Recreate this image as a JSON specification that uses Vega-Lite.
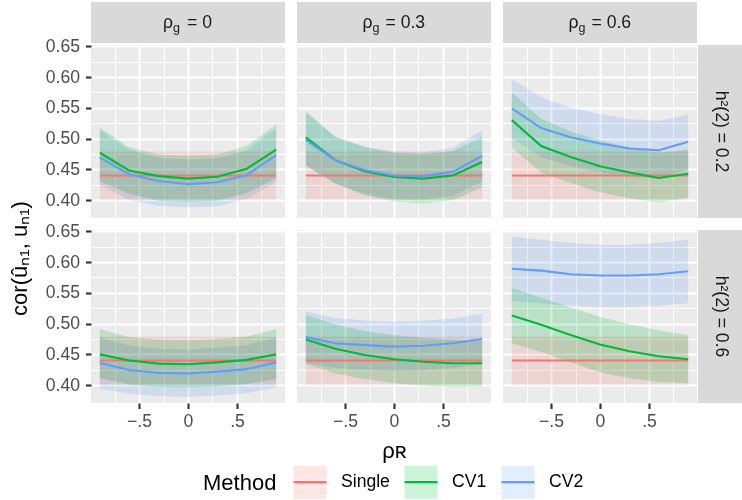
{
"$schema": "https://vega.github.io/schema/vega-lite/v6.json",
"padding": {"left": 8, "top": 2, "right": 0, "bottom": 0},
"background": "white",
"datasets": {"d": [
{"rg":"0","h2":"0.2","Method":"Single","rhoR":-0.9,"est":0.44,"lo":0.401,"hi":0.479},
{"rg":"0","h2":"0.2","Method":"Single","rhoR":-0.6,"est":0.44,"lo":0.401,"hi":0.479},
{"rg":"0","h2":"0.2","Method":"Single","rhoR":-0.3,"est":0.44,"lo":0.401,"hi":0.479},
{"rg":"0","h2":"0.2","Method":"Single","rhoR":0,"est":0.44,"lo":0.401,"hi":0.479},
{"rg":"0","h2":"0.2","Method":"Single","rhoR":0.3,"est":0.44,"lo":0.401,"hi":0.479},
{"rg":"0","h2":"0.2","Method":"Single","rhoR":0.6,"est":0.44,"lo":0.401,"hi":0.479},
{"rg":"0","h2":"0.2","Method":"Single","rhoR":0.9,"est":0.44,"lo":0.401,"hi":0.479},
{"rg":"0","h2":"0.2","Method":"CV1","rhoR":-0.9,"est":0.477,"lo":0.431,"hi":0.518},
{"rg":"0","h2":"0.2","Method":"CV1","rhoR":-0.6,"est":0.448,"lo":0.41,"hi":0.486},
{"rg":"0","h2":"0.2","Method":"CV1","rhoR":-0.3,"est":0.439,"lo":0.399,"hi":0.474},
{"rg":"0","h2":"0.2","Method":"CV1","rhoR":0,"est":0.435,"lo":0.397,"hi":0.472},
{"rg":"0","h2":"0.2","Method":"CV1","rhoR":0.3,"est":0.438,"lo":0.399,"hi":0.474},
{"rg":"0","h2":"0.2","Method":"CV1","rhoR":0.6,"est":0.451,"lo":0.412,"hi":0.488},
{"rg":"0","h2":"0.2","Method":"CV1","rhoR":0.9,"est":0.482,"lo":0.436,"hi":0.523},
{"rg":"0","h2":"0.2","Method":"CV2","rhoR":-0.9,"est":0.469,"lo":0.425,"hi":0.513},
{"rg":"0","h2":"0.2","Method":"CV2","rhoR":-0.6,"est":0.442,"lo":0.4,"hi":0.482},
{"rg":"0","h2":"0.2","Method":"CV2","rhoR":-0.3,"est":0.431,"lo":0.391,"hi":0.469},
{"rg":"0","h2":"0.2","Method":"CV2","rhoR":0,"est":0.426,"lo":0.388,"hi":0.466},
{"rg":"0","h2":"0.2","Method":"CV2","rhoR":0.3,"est":0.429,"lo":0.39,"hi":0.468},
{"rg":"0","h2":"0.2","Method":"CV2","rhoR":0.6,"est":0.441,"lo":0.402,"hi":0.481},
{"rg":"0","h2":"0.2","Method":"CV2","rhoR":0.9,"est":0.473,"lo":0.43,"hi":0.516},
{"rg":"0.3","h2":"0.2","Method":"Single","rhoR":-0.9,"est":0.44,"lo":0.401,"hi":0.479},
{"rg":"0.3","h2":"0.2","Method":"Single","rhoR":-0.6,"est":0.44,"lo":0.401,"hi":0.479},
{"rg":"0.3","h2":"0.2","Method":"Single","rhoR":-0.3,"est":0.44,"lo":0.401,"hi":0.479},
{"rg":"0.3","h2":"0.2","Method":"Single","rhoR":0,"est":0.44,"lo":0.401,"hi":0.479},
{"rg":"0.3","h2":"0.2","Method":"Single","rhoR":0.3,"est":0.44,"lo":0.401,"hi":0.479},
{"rg":"0.3","h2":"0.2","Method":"Single","rhoR":0.6,"est":0.44,"lo":0.401,"hi":0.479},
{"rg":"0.3","h2":"0.2","Method":"Single","rhoR":0.9,"est":0.44,"lo":0.401,"hi":0.479},
{"rg":"0.3","h2":"0.2","Method":"CV1","rhoR":-0.9,"est":0.502,"lo":0.457,"hi":0.545},
{"rg":"0.3","h2":"0.2","Method":"CV1","rhoR":-0.6,"est":0.465,"lo":0.427,"hi":0.503},
{"rg":"0.3","h2":"0.2","Method":"CV1","rhoR":-0.3,"est":0.447,"lo":0.408,"hi":0.486},
{"rg":"0.3","h2":"0.2","Method":"CV1","rhoR":0,"est":0.4375,"lo":0.398,"hi":0.477},
{"rg":"0.3","h2":"0.2","Method":"CV1","rhoR":0.3,"est":0.435,"lo":0.395,"hi":0.475},
{"rg":"0.3","h2":"0.2","Method":"CV1","rhoR":0.6,"est":0.44,"lo":0.4,"hi":0.48},
{"rg":"0.3","h2":"0.2","Method":"CV1","rhoR":0.9,"est":0.462,"lo":0.421,"hi":0.503},
{"rg":"0.3","h2":"0.2","Method":"CV2","rhoR":-0.9,"est":0.498,"lo":0.455,"hi":0.541},
{"rg":"0.3","h2":"0.2","Method":"CV2","rhoR":-0.6,"est":0.465,"lo":0.427,"hi":0.503},
{"rg":"0.3","h2":"0.2","Method":"CV2","rhoR":-0.3,"est":0.449,"lo":0.41,"hi":0.487},
{"rg":"0.3","h2":"0.2","Method":"CV2","rhoR":0,"est":0.44,"lo":0.401,"hi":0.479},
{"rg":"0.3","h2":"0.2","Method":"CV2","rhoR":0.3,"est":0.439,"lo":0.4,"hi":0.478},
{"rg":"0.3","h2":"0.2","Method":"CV2","rhoR":0.6,"est":0.446,"lo":0.407,"hi":0.485},
{"rg":"0.3","h2":"0.2","Method":"CV2","rhoR":0.9,"est":0.472,"lo":0.43,"hi":0.514},
{"rg":"0.6","h2":"0.2","Method":"Single","rhoR":-0.9,"est":0.44,"lo":0.401,"hi":0.479},
{"rg":"0.6","h2":"0.2","Method":"Single","rhoR":-0.6,"est":0.44,"lo":0.401,"hi":0.479},
{"rg":"0.6","h2":"0.2","Method":"Single","rhoR":-0.3,"est":0.44,"lo":0.401,"hi":0.479},
{"rg":"0.6","h2":"0.2","Method":"Single","rhoR":0,"est":0.44,"lo":0.401,"hi":0.479},
{"rg":"0.6","h2":"0.2","Method":"Single","rhoR":0.3,"est":0.44,"lo":0.401,"hi":0.479},
{"rg":"0.6","h2":"0.2","Method":"Single","rhoR":0.6,"est":0.44,"lo":0.401,"hi":0.479},
{"rg":"0.6","h2":"0.2","Method":"Single","rhoR":0.9,"est":0.44,"lo":0.401,"hi":0.479},
{"rg":"0.6","h2":"0.2","Method":"CV1","rhoR":-0.9,"est":0.53,"lo":0.485,"hi":0.575},
{"rg":"0.6","h2":"0.2","Method":"CV1","rhoR":-0.6,"est":0.488,"lo":0.445,"hi":0.532},
{"rg":"0.6","h2":"0.2","Method":"CV1","rhoR":-0.3,"est":0.47,"lo":0.428,"hi":0.512},
{"rg":"0.6","h2":"0.2","Method":"CV1","rhoR":0,"est":0.455,"lo":0.413,"hi":0.497},
{"rg":"0.6","h2":"0.2","Method":"CV1","rhoR":0.3,"est":0.445,"lo":0.403,"hi":0.486},
{"rg":"0.6","h2":"0.2","Method":"CV1","rhoR":0.6,"est":0.436,"lo":0.396,"hi":0.477},
{"rg":"0.6","h2":"0.2","Method":"CV1","rhoR":0.9,"est":0.443,"lo":0.404,"hi":0.482},
{"rg":"0.6","h2":"0.2","Method":"CV2","rhoR":-0.9,"est":0.549,"lo":0.5,"hi":0.597},
{"rg":"0.6","h2":"0.2","Method":"CV2","rhoR":-0.6,"est":0.517,"lo":0.47,"hi":0.567},
{"rg":"0.6","h2":"0.2","Method":"CV2","rhoR":-0.3,"est":0.502,"lo":0.455,"hi":0.55},
{"rg":"0.6","h2":"0.2","Method":"CV2","rhoR":0,"est":0.492,"lo":0.445,"hi":0.54},
{"rg":"0.6","h2":"0.2","Method":"CV2","rhoR":0.3,"est":0.484,"lo":0.438,"hi":0.532},
{"rg":"0.6","h2":"0.2","Method":"CV2","rhoR":0.6,"est":0.481,"lo":0.435,"hi":0.529},
{"rg":"0.6","h2":"0.2","Method":"CV2","rhoR":0.9,"est":0.495,"lo":0.45,"hi":0.539},
{"rg":"0","h2":"0.6","Method":"Single","rhoR":-0.9,"est":0.44,"lo":0.401,"hi":0.479},
{"rg":"0","h2":"0.6","Method":"Single","rhoR":-0.6,"est":0.44,"lo":0.401,"hi":0.479},
{"rg":"0","h2":"0.6","Method":"Single","rhoR":-0.3,"est":0.44,"lo":0.401,"hi":0.479},
{"rg":"0","h2":"0.6","Method":"Single","rhoR":0,"est":0.44,"lo":0.401,"hi":0.479},
{"rg":"0","h2":"0.6","Method":"Single","rhoR":0.3,"est":0.44,"lo":0.401,"hi":0.479},
{"rg":"0","h2":"0.6","Method":"Single","rhoR":0.6,"est":0.44,"lo":0.401,"hi":0.479},
{"rg":"0","h2":"0.6","Method":"Single","rhoR":0.9,"est":0.44,"lo":0.401,"hi":0.479},
{"rg":"0","h2":"0.6","Method":"CV1","rhoR":-0.9,"est":0.45,"lo":0.411,"hi":0.491},
{"rg":"0","h2":"0.6","Method":"CV1","rhoR":-0.6,"est":0.44,"lo":0.401,"hi":0.478},
{"rg":"0","h2":"0.6","Method":"CV1","rhoR":-0.3,"est":0.435,"lo":0.397,"hi":0.474},
{"rg":"0","h2":"0.6","Method":"CV1","rhoR":0,"est":0.434,"lo":0.396,"hi":0.473},
{"rg":"0","h2":"0.6","Method":"CV1","rhoR":0.3,"est":0.437,"lo":0.398,"hi":0.475},
{"rg":"0","h2":"0.6","Method":"CV1","rhoR":0.6,"est":0.441,"lo":0.402,"hi":0.479},
{"rg":"0","h2":"0.6","Method":"CV1","rhoR":0.9,"est":0.45,"lo":0.41,"hi":0.491},
{"rg":"0","h2":"0.6","Method":"CV2","rhoR":-0.9,"est":0.436,"lo":0.394,"hi":0.478},
{"rg":"0","h2":"0.6","Method":"CV2","rhoR":-0.6,"est":0.4245,"lo":0.386,"hi":0.464},
{"rg":"0","h2":"0.6","Method":"CV2","rhoR":-0.3,"est":0.42,"lo":0.382,"hi":0.459},
{"rg":"0","h2":"0.6","Method":"CV2","rhoR":0,"est":0.419,"lo":0.381,"hi":0.458},
{"rg":"0","h2":"0.6","Method":"CV2","rhoR":0.3,"est":0.422,"lo":0.383,"hi":0.461},
{"rg":"0","h2":"0.6","Method":"CV2","rhoR":0.6,"est":0.426,"lo":0.387,"hi":0.465},
{"rg":"0","h2":"0.6","Method":"CV2","rhoR":0.9,"est":0.437,"lo":0.396,"hi":0.478},
{"rg":"0.3","h2":"0.6","Method":"Single","rhoR":-0.9,"est":0.44,"lo":0.401,"hi":0.479},
{"rg":"0.3","h2":"0.6","Method":"Single","rhoR":-0.6,"est":0.44,"lo":0.401,"hi":0.479},
{"rg":"0.3","h2":"0.6","Method":"Single","rhoR":-0.3,"est":0.44,"lo":0.401,"hi":0.479},
{"rg":"0.3","h2":"0.6","Method":"Single","rhoR":0,"est":0.44,"lo":0.401,"hi":0.479},
{"rg":"0.3","h2":"0.6","Method":"Single","rhoR":0.3,"est":0.44,"lo":0.401,"hi":0.479},
{"rg":"0.3","h2":"0.6","Method":"Single","rhoR":0.6,"est":0.44,"lo":0.401,"hi":0.479},
{"rg":"0.3","h2":"0.6","Method":"Single","rhoR":0.9,"est":0.44,"lo":0.401,"hi":0.479},
{"rg":"0.3","h2":"0.6","Method":"CV1","rhoR":-0.9,"est":0.474,"lo":0.434,"hi":0.514},
{"rg":"0.3","h2":"0.6","Method":"CV1","rhoR":-0.6,"est":0.459,"lo":0.419,"hi":0.499},
{"rg":"0.3","h2":"0.6","Method":"CV1","rhoR":-0.3,"est":0.449,"lo":0.41,"hi":0.488},
{"rg":"0.3","h2":"0.6","Method":"CV1","rhoR":0,"est":0.442,"lo":0.403,"hi":0.481},
{"rg":"0.3","h2":"0.6","Method":"CV1","rhoR":0.3,"est":0.438,"lo":0.399,"hi":0.477},
{"rg":"0.3","h2":"0.6","Method":"CV1","rhoR":0.6,"est":0.4355,"lo":0.397,"hi":0.474},
{"rg":"0.3","h2":"0.6","Method":"CV1","rhoR":0.9,"est":0.4355,"lo":0.398,"hi":0.472},
{"rg":"0.3","h2":"0.6","Method":"CV2","rhoR":-0.9,"est":0.478,"lo":0.436,"hi":0.52},
{"rg":"0.3","h2":"0.6","Method":"CV2","rhoR":-0.6,"est":0.468,"lo":0.428,"hi":0.509},
{"rg":"0.3","h2":"0.6","Method":"CV2","rhoR":-0.3,"est":0.465,"lo":0.425,"hi":0.505},
{"rg":"0.3","h2":"0.6","Method":"CV2","rhoR":0,"est":0.4625,"lo":0.423,"hi":0.503},
{"rg":"0.3","h2":"0.6","Method":"CV2","rhoR":0.3,"est":0.464,"lo":0.424,"hi":0.505},
{"rg":"0.3","h2":"0.6","Method":"CV2","rhoR":0.6,"est":0.468,"lo":0.428,"hi":0.508},
{"rg":"0.3","h2":"0.6","Method":"CV2","rhoR":0.9,"est":0.475,"lo":0.434,"hi":0.516},
{"rg":"0.6","h2":"0.6","Method":"Single","rhoR":-0.9,"est":0.44,"lo":0.401,"hi":0.479},
{"rg":"0.6","h2":"0.6","Method":"Single","rhoR":-0.6,"est":0.44,"lo":0.401,"hi":0.479},
{"rg":"0.6","h2":"0.6","Method":"Single","rhoR":-0.3,"est":0.44,"lo":0.401,"hi":0.479},
{"rg":"0.6","h2":"0.6","Method":"Single","rhoR":0,"est":0.44,"lo":0.401,"hi":0.479},
{"rg":"0.6","h2":"0.6","Method":"Single","rhoR":0.3,"est":0.44,"lo":0.401,"hi":0.479},
{"rg":"0.6","h2":"0.6","Method":"Single","rhoR":0.6,"est":0.44,"lo":0.401,"hi":0.479},
{"rg":"0.6","h2":"0.6","Method":"Single","rhoR":0.9,"est":0.44,"lo":0.401,"hi":0.479},
{"rg":"0.6","h2":"0.6","Method":"CV1","rhoR":-0.9,"est":0.513,"lo":0.468,"hi":0.558},
{"rg":"0.6","h2":"0.6","Method":"CV1","rhoR":-0.6,"est":0.498,"lo":0.454,"hi":0.542},
{"rg":"0.6","h2":"0.6","Method":"CV1","rhoR":-0.3,"est":0.4815,"lo":0.437,"hi":0.526},
{"rg":"0.6","h2":"0.6","Method":"CV1","rhoR":0,"est":0.466,"lo":0.421,"hi":0.511},
{"rg":"0.6","h2":"0.6","Method":"CV1","rhoR":0.3,"est":0.455,"lo":0.411,"hi":0.499},
{"rg":"0.6","h2":"0.6","Method":"CV1","rhoR":0.6,"est":0.447,"lo":0.405,"hi":0.489},
{"rg":"0.6","h2":"0.6","Method":"CV1","rhoR":0.9,"est":0.442,"lo":0.403,"hi":0.4815},
{"rg":"0.6","h2":"0.6","Method":"CV2","rhoR":-0.9,"est":0.589,"lo":0.537,"hi":0.641},
{"rg":"0.6","h2":"0.6","Method":"CV2","rhoR":-0.6,"est":0.586,"lo":0.533,"hi":0.636},
{"rg":"0.6","h2":"0.6","Method":"CV2","rhoR":-0.3,"est":0.58,"lo":0.529,"hi":0.631},
{"rg":"0.6","h2":"0.6","Method":"CV2","rhoR":0,"est":0.578,"lo":0.527,"hi":0.628},
{"rg":"0.6","h2":"0.6","Method":"CV2","rhoR":0.3,"est":0.578,"lo":0.527,"hi":0.628},
{"rg":"0.6","h2":"0.6","Method":"CV2","rhoR":0.6,"est":0.58,"lo":0.529,"hi":0.631},
{"rg":"0.6","h2":"0.6","Method":"CV2","rhoR":0.9,"est":0.585,"lo":0.533,"hi":0.636}
]},
"config": {
  "font": "Liberation Sans",
  "view": {"stroke": null},
  "axis": {"domain": false, "grid": true, "gridColor": "#FFFFFF", "tickColor": "#333333", "tickWidth": 2.1, "tickSize": 5.5, "labelFontSize": 17.6, "labelColor": "#4D4D4D", "labelPadding": 4, "labelOverlap": false, "labelFlush": false, "titleFontSize": 22, "titleFontWeight": "normal", "titleColor": "#000000"},
  "axisX": {"titlePadding": 10},
  "axisY": {"titlePadding": 14, "labelPadding": 6},
  "legend": {"orient": "none", "legendX": 112, "legendY": 462, "direction": "horizontal", "titleOrient": "left", "titleFontSize": 22, "titleFontWeight": "normal", "titleColor": "#000000", "titlePadding": 15, "titleBaseline": "middle", "labelFontSize": 17.6, "labelColor": "#000000", "labelOffset": 13, "columnPadding": 10, "symbolSize": 1089, "symbolType": "M-1,0H1V1H-1V-1H1V0Z", "symbolStrokeWidth": 2.1, "symbolDash": [33, 1000]}
},
"bounds": "flush",
"align": "each",
"columns": 6,
"spacing": {"row": 2, "column": 1},
"concat": [
 {"width": 194, "height": 41, "view": {"fill": "#D9D9D9", "stroke": null}, "data": {"values": [{"lab": "= 0"}]}, "layer": [
   {"mark": {"type": "text", "text": "ρ", "align": "left", "baseline": "middle", "dx": -25, "fontSize": 17.6, "color": "#1A1A1A"}},
   {"mark": {"type": "text", "text": "g", "align": "left", "baseline": "middle", "dx": -15, "dy": 5, "fontSize": 12.5, "color": "#1A1A1A"}},
   {"mark": {"type": "text", "align": "left", "baseline": "middle", "dx": -1, "fontSize": 17.6, "color": "#1A1A1A"}, "encoding": {"text": {"field": "lab"}}}
 ]},
 {"width": 9.5, "height": 41, "data": {"values": [{"lab": ""}]}, "mark": {"type": "text"}, "encoding": {"text": {"field": "lab"}}},
 {"width": 194, "height": 41, "view": {"fill": "#D9D9D9", "stroke": null}, "data": {"values": [{"lab": "= 0.3"}]}, "layer": [
   {"mark": {"type": "text", "text": "ρ", "align": "left", "baseline": "middle", "dx": -31.5, "fontSize": 17.6, "color": "#1A1A1A"}},
   {"mark": {"type": "text", "text": "g", "align": "left", "baseline": "middle", "dx": -21.5, "dy": 5, "fontSize": 12.5, "color": "#1A1A1A"}},
   {"mark": {"type": "text", "align": "left", "baseline": "middle", "dx": -8.5, "fontSize": 17.6, "color": "#1A1A1A"}, "encoding": {"text": {"field": "lab"}}}
 ]},
 {"width": 9.5, "height": 41, "data": {"values": [{"lab": ""}]}, "mark": {"type": "text"}, "encoding": {"text": {"field": "lab"}}},
 {"width": 194, "height": 41, "view": {"fill": "#D9D9D9", "stroke": null}, "data": {"values": [{"lab": "= 0.6"}]}, "layer": [
   {"mark": {"type": "text", "text": "ρ", "align": "left", "baseline": "middle", "dx": -31.5, "fontSize": 17.6, "color": "#1A1A1A"}},
   {"mark": {"type": "text", "text": "g", "align": "left", "baseline": "middle", "dx": -21.5, "dy": 5, "fontSize": 12.5, "color": "#1A1A1A"}},
   {"mark": {"type": "text", "align": "left", "baseline": "middle", "dx": -8.5, "fontSize": 17.6, "color": "#1A1A1A"}, "encoding": {"text": {"field": "lab"}}}
 ]},
 {"width": 46, "height": 41, "data": {"values": [{"lab": ""}]}, "mark": {"type": "text"}, "encoding": {"text": {"field": "lab"}}},

 {"width": 194, "height": 173, "view": {"fill": "#EBEBEB", "stroke": null}, "data": {"name": "d"},
  "transform": [{"filter": "datum.rg == '0' && datum.h2 == '0.2'"}],
  "encoding": {"x": {"field": "rhoR", "type": "quantitative", "scale": {"domain": [-0.99, 0.99], "nice": false, "zero": false},
     "axis": {"values": [-0.75,-0.5,-0.25,0,0.25,0.5,0.75], "labels": false, "ticks": false, "title": null, "gridWidth": {"condition": {"test": "abs(datum.value) == 0.25 || abs(datum.value) == 0.75", "value": 1.1}, "value": 2.1}}}},
  "layer": [
   {"mark": {"type": "area", "blend": "multiply"}, "encoding": {
     "y": {"field": "lo", "type": "quantitative", "scale": {"domain": [0.371, 0.652], "nice": false, "zero": false},
       "axis": {"values": [0.4,0.425,0.45,0.475,0.5,0.525,0.55,0.575,0.6,0.625,0.65], "labelExpr": "abs(datum.value*20 - round(datum.value*20)) > 0.01 ? '' : format(datum.value, '.2f')", "tickOpacity": {"condition": {"test": "abs(datum.value*20 - round(datum.value*20)) > 0.01", "value": 0}, "value": 1}, "gridWidth": {"condition": {"test": "abs(datum.value*20 - round(datum.value*20)) > 0.01", "value": 1.1}, "value": 2.1}, "title": "cor(ûₙ₁, uₙ₁)", "titleY": 213}},
     "y2": {"field": "hi"},
     "fill": {"field": "Method", "type": "nominal", "scale": {"domain": ["Single","CV1","CV2"], "range": ["#FFE6E4","#CCF4D8","#E1EEFF"]}, "legend": {"title": "Method"}}}},
   {"mark": {"type": "line", "strokeWidth": 2.1}, "encoding": {
     "y": {"field": "est", "type": "quantitative", "scale": {"domain": [0.371, 0.652], "nice": false, "zero": false},
       "axis": {"values": [0.4,0.425,0.45,0.475,0.5,0.525,0.55,0.575,0.6,0.625,0.65], "labelExpr": "abs(datum.value*20 - round(datum.value*20)) > 0.01 ? '' : format(datum.value, '.2f')", "tickOpacity": {"condition": {"test": "abs(datum.value*20 - round(datum.value*20)) > 0.01", "value": 0}, "value": 1}, "gridWidth": {"condition": {"test": "abs(datum.value*20 - round(datum.value*20)) > 0.01", "value": 1.1}, "value": 2.1}, "title": "cor(ûₙ₁, uₙ₁)", "titleY": 213}},
     "stroke": {"field": "Method", "type": "nominal", "scale": {"domain": ["Single","CV1","CV2"], "range": ["#F8766D","#00BA38","#619CFF"]}, "legend": {"title": "Method"}}}}
  ]},
 {"width": 9.5, "height": 173, "data": {"values": [{"lab": ""}]}, "mark": {"type": "text"}, "encoding": {"text": {"field": "lab"}}},
 {"width": 194, "height": 173, "view": {"fill": "#EBEBEB", "stroke": null}, "data": {"name": "d"},
  "transform": [{"filter": "datum.rg == '0.3' && datum.h2 == '0.2'"}],
  "encoding": {"x": {"field": "rhoR", "type": "quantitative", "scale": {"domain": [-0.99, 0.99], "nice": false, "zero": false},
     "axis": {"values": [-0.75,-0.5,-0.25,0,0.25,0.5,0.75], "labels": false, "ticks": false, "title": null, "gridWidth": {"condition": {"test": "abs(datum.value) == 0.25 || abs(datum.value) == 0.75", "value": 1.1}, "value": 2.1}}}},
  "layer": [
   {"mark": {"type": "area", "blend": "multiply"}, "encoding": {
     "y": {"field": "lo", "type": "quantitative", "scale": {"domain": [0.371, 0.652], "nice": false, "zero": false},
       "axis": {"values": [0.4,0.425,0.45,0.475,0.5,0.525,0.55,0.575,0.6,0.625,0.65], "labels": false, "ticks": false, "title": null, "gridWidth": {"condition": {"test": "abs(datum.value*20 - round(datum.value*20)) > 0.01", "value": 1.1}, "value": 2.1}}},
     "y2": {"field": "hi"},
     "fill": {"field": "Method", "type": "nominal", "scale": {"domain": ["Single","CV1","CV2"], "range": ["#FFE6E4","#CCF4D8","#E1EEFF"]}, "legend": {"title": "Method"}}}},
   {"mark": {"type": "line", "strokeWidth": 2.1}, "encoding": {
     "y": {"field": "est", "type": "quantitative", "scale": {"domain": [0.371, 0.652], "nice": false, "zero": false},
       "axis": {"values": [0.4,0.425,0.45,0.475,0.5,0.525,0.55,0.575,0.6,0.625,0.65], "labels": false, "ticks": false, "title": null, "gridWidth": {"condition": {"test": "abs(datum.value*20 - round(datum.value*20)) > 0.01", "value": 1.1}, "value": 2.1}}},
     "stroke": {"field": "Method", "type": "nominal", "scale": {"domain": ["Single","CV1","CV2"], "range": ["#F8766D","#00BA38","#619CFF"]}, "legend": {"title": "Method"}}}}
  ]},
 {"width": 9.5, "height": 173, "data": {"values": [{"lab": ""}]}, "mark": {"type": "text"}, "encoding": {"text": {"field": "lab"}}},
 {"width": 194, "height": 173, "view": {"fill": "#EBEBEB", "stroke": null}, "data": {"name": "d"},
  "transform": [{"filter": "datum.rg == '0.6' && datum.h2 == '0.2'"}],
  "encoding": {"x": {"field": "rhoR", "type": "quantitative", "scale": {"domain": [-0.99, 0.99], "nice": false, "zero": false},
     "axis": {"values": [-0.75,-0.5,-0.25,0,0.25,0.5,0.75], "labels": false, "ticks": false, "title": null, "gridWidth": {"condition": {"test": "abs(datum.value) == 0.25 || abs(datum.value) == 0.75", "value": 1.1}, "value": 2.1}}}},
  "layer": [
   {"mark": {"type": "area", "blend": "multiply"}, "encoding": {
     "y": {"field": "lo", "type": "quantitative", "scale": {"domain": [0.371, 0.652], "nice": false, "zero": false},
       "axis": {"values": [0.4,0.425,0.45,0.475,0.5,0.525,0.55,0.575,0.6,0.625,0.65], "labels": false, "ticks": false, "title": null, "gridWidth": {"condition": {"test": "abs(datum.value*20 - round(datum.value*20)) > 0.01", "value": 1.1}, "value": 2.1}}},
     "y2": {"field": "hi"},
     "fill": {"field": "Method", "type": "nominal", "scale": {"domain": ["Single","CV1","CV2"], "range": ["#FFE6E4","#CCF4D8","#E1EEFF"]}, "legend": {"title": "Method"}}}},
   {"mark": {"type": "line", "strokeWidth": 2.1}, "encoding": {
     "y": {"field": "est", "type": "quantitative", "scale": {"domain": [0.371, 0.652], "nice": false, "zero": false},
       "axis": {"values": [0.4,0.425,0.45,0.475,0.5,0.525,0.55,0.575,0.6,0.625,0.65], "labels": false, "ticks": false, "title": null, "gridWidth": {"condition": {"test": "abs(datum.value*20 - round(datum.value*20)) > 0.01", "value": 1.1}, "value": 2.1}}},
     "stroke": {"field": "Method", "type": "nominal", "scale": {"domain": ["Single","CV1","CV2"], "range": ["#F8766D","#00BA38","#619CFF"]}, "legend": {"title": "Method"}}}}
  ]},
 {"width": 46, "height": 173, "view": {"fill": "#D9D9D9", "stroke": null}, "data": {"values": [{"lab": "h²(2) = 0.2"}]},
  "mark": {"type": "text", "angle": 90, "align": "center", "baseline": "middle", "fontSize": 17.6, "color": "#1A1A1A"}, "encoding": {"text": {"field": "lab"}}},

 {"width": 194, "height": 8, "data": {"values": [{"lab": ""}]}, "mark": {"type": "text"}, "encoding": {"text": {"field": "lab"}}},
 {"width": 9.5, "height": 8, "data": {"values": [{"lab": ""}]}, "mark": {"type": "text"}, "encoding": {"text": {"field": "lab"}}},
 {"width": 194, "height": 8, "data": {"values": [{"lab": ""}]}, "mark": {"type": "text"}, "encoding": {"text": {"field": "lab"}}},
 {"width": 9.5, "height": 8, "data": {"values": [{"lab": ""}]}, "mark": {"type": "text"}, "encoding": {"text": {"field": "lab"}}},
 {"width": 194, "height": 8, "data": {"values": [{"lab": ""}]}, "mark": {"type": "text"}, "encoding": {"text": {"field": "lab"}}},
 {"width": 46, "height": 8, "data": {"values": [{"lab": ""}]}, "mark": {"type": "text"}, "encoding": {"text": {"field": "lab"}}},

 {"width": 194, "height": 173, "view": {"fill": "#EBEBEB", "stroke": null}, "data": {"name": "d"},
  "transform": [{"filter": "datum.rg == '0' && datum.h2 == '0.6'"}],
  "encoding": {"x": {"field": "rhoR", "type": "quantitative", "scale": {"domain": [-0.99, 0.99], "nice": false, "zero": false},
     "axis": {"values": [-0.75,-0.5,-0.25,0,0.25,0.5,0.75], "labelExpr": "datum.value == 0 ? '0' : (datum.value == -0.5 ? '−.5' : (datum.value == 0.5 ? '.5' : ''))", "tickOpacity": {"condition": {"test": "abs(datum.value) == 0.25 || abs(datum.value) == 0.75", "value": 0}, "value": 1}, "title": null, "gridWidth": {"condition": {"test": "abs(datum.value) == 0.25 || abs(datum.value) == 0.75", "value": 1.1}, "value": 2.1}}}},
  "layer": [
   {"mark": {"type": "area", "blend": "multiply"}, "encoding": {
     "y": {"field": "lo", "type": "quantitative", "scale": {"domain": [0.371, 0.652], "nice": false, "zero": false},
       "axis": {"values": [0.4,0.425,0.45,0.475,0.5,0.525,0.55,0.575,0.6,0.625,0.65], "labelExpr": "abs(datum.value*20 - round(datum.value*20)) > 0.01 ? '' : format(datum.value, '.2f')", "tickOpacity": {"condition": {"test": "abs(datum.value*20 - round(datum.value*20)) > 0.01", "value": 0}, "value": 1}, "gridWidth": {"condition": {"test": "abs(datum.value*20 - round(datum.value*20)) > 0.01", "value": 1.1}, "value": 2.1}, "title": null}},
     "y2": {"field": "hi"},
     "fill": {"field": "Method", "type": "nominal", "scale": {"domain": ["Single","CV1","CV2"], "range": ["#FFE6E4","#CCF4D8","#E1EEFF"]}, "legend": {"title": "Method"}}}},
   {"mark": {"type": "line", "strokeWidth": 2.1}, "encoding": {
     "y": {"field": "est", "type": "quantitative", "scale": {"domain": [0.371, 0.652], "nice": false, "zero": false},
       "axis": {"values": [0.4,0.425,0.45,0.475,0.5,0.525,0.55,0.575,0.6,0.625,0.65], "labelExpr": "abs(datum.value*20 - round(datum.value*20)) > 0.01 ? '' : format(datum.value, '.2f')", "tickOpacity": {"condition": {"test": "abs(datum.value*20 - round(datum.value*20)) > 0.01", "value": 0}, "value": 1}, "gridWidth": {"condition": {"test": "abs(datum.value*20 - round(datum.value*20)) > 0.01", "value": 1.1}, "value": 2.1}, "title": null}},
     "stroke": {"field": "Method", "type": "nominal", "scale": {"domain": ["Single","CV1","CV2"], "range": ["#F8766D","#00BA38","#619CFF"]}, "legend": {"title": "Method"}}}}
  ]},
 {"width": 9.5, "height": 173, "data": {"values": [{"lab": ""}]}, "mark": {"type": "text"}, "encoding": {"text": {"field": "lab"}}},
 {"width": 194, "height": 173, "view": {"fill": "#EBEBEB", "stroke": null}, "data": {"name": "d"},
  "transform": [{"filter": "datum.rg == '0.3' && datum.h2 == '0.6'"}],
  "encoding": {"x": {"field": "rhoR", "type": "quantitative", "scale": {"domain": [-0.99, 0.99], "nice": false, "zero": false},
     "axis": {"values": [-0.75,-0.5,-0.25,0,0.25,0.5,0.75], "labelExpr": "datum.value == 0 ? '0' : (datum.value == -0.5 ? '−.5' : (datum.value == 0.5 ? '.5' : ''))", "tickOpacity": {"condition": {"test": "abs(datum.value) == 0.25 || abs(datum.value) == 0.75", "value": 0}, "value": 1}, "title": "ρʀ", "gridWidth": {"condition": {"test": "abs(datum.value) == 0.25 || abs(datum.value) == 0.75", "value": 1.1}, "value": 2.1}}}},
  "layer": [
   {"mark": {"type": "area", "blend": "multiply"}, "encoding": {
     "y": {"field": "lo", "type": "quantitative", "scale": {"domain": [0.371, 0.652], "nice": false, "zero": false},
       "axis": {"values": [0.4,0.425,0.45,0.475,0.5,0.525,0.55,0.575,0.6,0.625,0.65], "labels": false, "ticks": false, "title": null, "gridWidth": {"condition": {"test": "abs(datum.value*20 - round(datum.value*20)) > 0.01", "value": 1.1}, "value": 2.1}}},
     "y2": {"field": "hi"},
     "fill": {"field": "Method", "type": "nominal", "scale": {"domain": ["Single","CV1","CV2"], "range": ["#FFE6E4","#CCF4D8","#E1EEFF"]}, "legend": {"title": "Method"}}}},
   {"mark": {"type": "line", "strokeWidth": 2.1}, "encoding": {
     "y": {"field": "est", "type": "quantitative", "scale": {"domain": [0.371, 0.652], "nice": false, "zero": false},
       "axis": {"values": [0.4,0.425,0.45,0.475,0.5,0.525,0.55,0.575,0.6,0.625,0.65], "labels": false, "ticks": false, "title": null, "gridWidth": {"condition": {"test": "abs(datum.value*20 - round(datum.value*20)) > 0.01", "value": 1.1}, "value": 2.1}}},
     "stroke": {"field": "Method", "type": "nominal", "scale": {"domain": ["Single","CV1","CV2"], "range": ["#F8766D","#00BA38","#619CFF"]}, "legend": {"title": "Method"}}}}
  ]},
 {"width": 9.5, "height": 173, "data": {"values": [{"lab": ""}]}, "mark": {"type": "text"}, "encoding": {"text": {"field": "lab"}}},
 {"width": 194, "height": 173, "view": {"fill": "#EBEBEB", "stroke": null}, "data": {"name": "d"},
  "transform": [{"filter": "datum.rg == '0.6' && datum.h2 == '0.6'"}],
  "encoding": {"x": {"field": "rhoR", "type": "quantitative", "scale": {"domain": [-0.99, 0.99], "nice": false, "zero": false},
     "axis": {"values": [-0.75,-0.5,-0.25,0,0.25,0.5,0.75], "labelExpr": "datum.value == 0 ? '0' : (datum.value == -0.5 ? '−.5' : (datum.value == 0.5 ? '.5' : ''))", "tickOpacity": {"condition": {"test": "abs(datum.value) == 0.25 || abs(datum.value) == 0.75", "value": 0}, "value": 1}, "title": null, "gridWidth": {"condition": {"test": "abs(datum.value) == 0.25 || abs(datum.value) == 0.75", "value": 1.1}, "value": 2.1}}}},
  "layer": [
   {"mark": {"type": "area", "blend": "multiply"}, "encoding": {
     "y": {"field": "lo", "type": "quantitative", "scale": {"domain": [0.371, 0.652], "nice": false, "zero": false},
       "axis": {"values": [0.4,0.425,0.45,0.475,0.5,0.525,0.55,0.575,0.6,0.625,0.65], "labels": false, "ticks": false, "title": null, "gridWidth": {"condition": {"test": "abs(datum.value*20 - round(datum.value*20)) > 0.01", "value": 1.1}, "value": 2.1}}},
     "y2": {"field": "hi"},
     "fill": {"field": "Method", "type": "nominal", "scale": {"domain": ["Single","CV1","CV2"], "range": ["#FFE6E4","#CCF4D8","#E1EEFF"]}, "legend": {"title": "Method"}}}},
   {"mark": {"type": "line", "strokeWidth": 2.1}, "encoding": {
     "y": {"field": "est", "type": "quantitative", "scale": {"domain": [0.371, 0.652], "nice": false, "zero": false},
       "axis": {"values": [0.4,0.425,0.45,0.475,0.5,0.525,0.55,0.575,0.6,0.625,0.65], "labels": false, "ticks": false, "title": null, "gridWidth": {"condition": {"test": "abs(datum.value*20 - round(datum.value*20)) > 0.01", "value": 1.1}, "value": 2.1}}},
     "stroke": {"field": "Method", "type": "nominal", "scale": {"domain": ["Single","CV1","CV2"], "range": ["#F8766D","#00BA38","#619CFF"]}, "legend": {"title": "Method"}}}}
  ]},
 {"width": 46, "height": 173, "view": {"fill": "#D9D9D9", "stroke": null}, "data": {"values": [{"lab": "h²(2) = 0.6"}]},
  "mark": {"type": "text", "angle": 90, "align": "center", "baseline": "middle", "fontSize": 17.6, "color": "#1A1A1A"}, "encoding": {"text": {"field": "lab"}}}
]
}
